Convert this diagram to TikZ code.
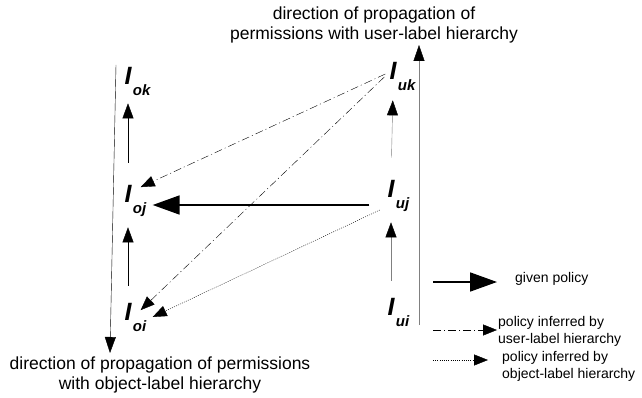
\documentclass[tikz,border=0pt]{standalone}
\usepackage{fontspec}
\setmainfont{Liberation Sans}
\usetikzlibrary{arrows.meta}

% label I with its subscript hanging below right
\newcommand{\lev}[1]{I\rlap{\hspace{1.5pt}\raisebox{-11pt}{\fontsize{15}{15}\selectfont #1}}}

\begin{document}
\begin{tikzpicture}[x=1pt,y=-1pt,
    lev/.style={font=\fontsize{25}{25}\selectfont\bfseries\itshape, inner sep=0pt, anchor=base},
    txt/.style={font=\fontsize{17.5}{20}\selectfont, align=center, inner sep=0pt},
    key/.style={font=\fontsize{14}{17}\selectfont, align=left, inner sep=0pt, anchor=west},
    up/.style={-{Triangle[length=15pt,width=11pt,color=black]}},
    longline/.style={-{Triangle[length=16pt,width=11pt,color=black]}},
    given/.style={line width=1.8pt, -{Triangle[length=27pt,width=19pt]}},
    byuser/.style={dash pattern=on 8pt off 3pt on 1pt off 3pt, -{Triangle[length=14pt,width=11pt]}},
    byobj/.style={dash pattern=on 1pt off 1.2pt, -{Triangle[length=14pt,width=11pt]}}]
    \useasboundingbox (0,0) rectangle (642,398);

    % object labels
    \node[lev] (ok) at (128,85) {\lev{ok}};
    \node[lev] (oj) at (128,202) {\lev{oj}};
    \node[lev] (oi) at (128,320) {\lev{oi}};
    % user labels
    \node[lev] (uk) at (393,80) {\lev{uk}};
    \node[lev] (uj) at (391,197) {\lev{uj}};
    \node[lev] (ui) at (391,315) {\lev{ui}};

    \node[txt] (usrdir) at (374,25) {direction of propagation of\\permissions with user-label hierarchy};
    \node[txt] (objdir) at (160,375) {direction of propagation of permissions\\with object-label hierarchy};

    % hierarchies
    \draw[up, shorten <=17pt, shorten >=11pt] (oi.north) -- (oj.south);
    \draw[up, shorten <=22pt, shorten >=7pt] (oj.north) -- (ok.south);
    \draw[up, gray, shorten <=17pt, shorten >=11pt] (ui.north) -- (uj.south);
    \draw[up, gray, shorten <=22pt, shorten >=9pt] (uj.north) -- (uk.south);

    \coordinate (otop) at (116,65);
    \coordinate (obot) at (110,353);
    \coordinate (ubot) at (419,325);
    \coordinate (utop) at (419,45);
    \draw[longline] (otop) -- (obot);
    \draw[longline, gray] (ubot) -- (utop);

    % policies
    \draw[given] ([shift={(-18pt,-8pt)}]uj.base west) -- ([shift={(21pt,-3pt)}]oj.base east);
    \draw[byuser] ([shift={(-4pt,6pt)}]uk.base west) -- ([shift={(9pt,-2.5pt)}]oj.north east);
    \draw[byuser] ([shift={(-5pt,3pt)}]uk.base west) -- ([shift={(9pt,-7.5pt)}]oi.north east);
    \draw[byobj] ([shift={(-7.5pt,-13pt)}]uj.base west) -- ([shift={(21pt,3pt)}]oi.base east);

    % key
    \coordinate (k1) at (433,282);
    \coordinate (k2) at (433,330);
    \coordinate (k3) at (433,360);
    \node[key] (k1t) at (515,279) {given policy};
    \node[key] (k2t) at (498,331) {policy inferred by\\user-label hierarchy};
    \node[key] (k3t) at (502,366) {policy inferred by\\object-label hierarchy};
    \draw[given, shorten >=18pt] (k1) -- (k1 -| k1t.west);
    \draw[byuser, shorten >=1pt] (k2) -- (k2 -| k2t.west);
    \draw[byobj, shorten >=14pt] (k3) -- (k3 -| k3t.west);
\end{tikzpicture}
\end{document}
